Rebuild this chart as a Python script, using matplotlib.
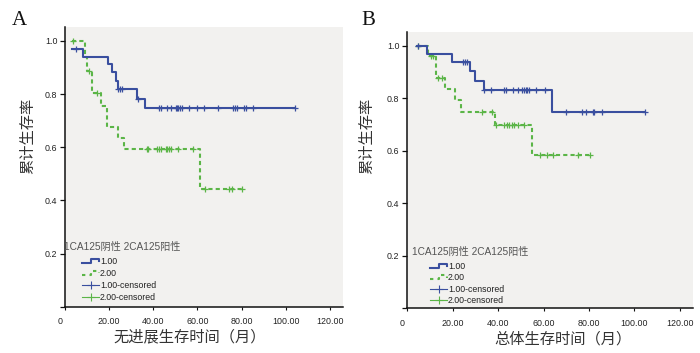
import numpy as np
import matplotlib
matplotlib.use("Agg")
import matplotlib.pyplot as plt
from matplotlib.lines import Line2D
from matplotlib.legend_handler import HandlerBase, HandlerLine2D
from matplotlib.transforms import ScaledTranslation

# ---------------- data ----------------
# Panel A (progression-free survival)
A_blue_t0, A_blue_s0 = 3.0, 0.969
A_blue_event_t = [8.3, 19.3, 21.1, 22.9, 23.8, 32.8, 36.2]
A_blue_event_s = [0.940, 0.911, 0.881, 0.850, 0.818, 0.783, 0.746]
A_blue_cens = [5.0, 24.1, 24.9, 25.7, 33.2, 42.4, 43.3, 46.0, 47.8, 50.1, 50.7, 51.4,
               52.2, 52.9, 56.1, 60.0, 63.0, 69.1, 75.9, 76.9, 78.1, 81.1, 81.9, 85.2, 104.1]

A_green_t0, A_green_s0 = 3.2, 1.0
A_green_event_t = [9.0, 10.0, 12.1, 16.1, 19.1, 24.1, 26.7, 61.1]
A_green_event_s = [0.941, 0.886, 0.802, 0.754, 0.677, 0.635, 0.592, 0.442]
A_green_cens = [3.8, 11.0, 14.3, 37.0, 37.7, 41.8, 42.7, 43.4, 45.7, 46.4, 47.1, 48.0,
                51.0, 58.1, 63.5, 74.5, 75.6, 80.2]

# Panel B (overall survival)
B_blue_t0, B_blue_s0 = 4.3, 1.0
B_blue_event_t = [8.8, 19.8, 27.6, 29.6, 33.7, 63.6]
B_blue_event_s = [0.971, 0.940, 0.905, 0.868, 0.831, 0.749]
B_blue_cens = [4.8, 24.6, 25.4, 26.4, 33.9, 36.7, 42.7, 43.4, 46.7, 48.6, 50.7, 51.4, 52.2,
               52.9, 53.6, 56.6, 60.6, 69.7, 77.0, 78.5, 81.6, 82.4, 85.6, 104.7]

B_green_t0, B_green_s0 = 4.3, 1.0
B_green_event_t = [9.2, 12.6, 16.7, 21.0, 23.6, 38.4, 54.7]
B_green_event_s = [0.962, 0.878, 0.835, 0.793, 0.747, 0.698, 0.583]
B_green_cens = [4.8, 10.4, 11.4, 13.6, 15.4, 32.7, 37.4, 39.1, 42.7, 43.7, 44.6, 45.9,
                47.1, 48.6, 51.5, 58.4, 61.3, 64.2, 75.2, 80.4]

x_ticks = [0, 20, 40, 60, 80, 100, 120]
x_ticklabels = ['0', '20.00', '40.00', '60.00', '80.00', '100.00', '120.00']
y_ticks = [0.0, 0.2, 0.4, 0.6, 0.8, 1.0]
y_ticklabels = ['', '0.2', '0.4', '0.6', '0.8', '1.0']

legend_title = '1CA125阴性 2CA125阳性'
legend_labels = ['1.00', '2.00', '1.00-censored', '2.00-censored']
xlabel_A = '无进展生存时间（月）'
xlabel_B = '总体生存时间（月）'
ylabel = '累计生存率'

# ---------------- style ----------------
BLUE = '#3a4f9f'
GREEN = '#5bb547'
BG = '#f2f1ef'
DASH = (0, (2.0, 1.5))
LAT = ['Liberation Sans', 'DejaVu Sans']
CJK = ['Noto Sans CJK SC', 'DejaVu Sans']
MIX = ['Liberation Sans', 'Noto Sans CJK SC', 'DejaVu Sans']

plt.rcParams['font.family'] = MIX

fig = plt.figure(figsize=(7.0, 3.53), dpi=100)
axA = fig.add_axes([0.093, 0.131, 0.397, 0.7925])
axB = fig.add_axes([0.582, 0.1266, 0.4086, 0.782])


def s_at(c, t0, s0, ev_t, ev_s):
    idx = np.searchsorted(ev_t, c, side='right')
    return s0 if idx == 0 else ev_s[idx - 1]


def km(ax, t0, s0, ev_t, ev_s, cens, color, dashed, z):
    t_end = max(cens + ev_t)
    xs = [t0] + ev_t + [t_end]
    ys = [s0] + ev_s + [ev_s[-1]]
    ls = DASH if dashed else '-'
    ax.step(xs, ys, where='post', color=color, lw=1.5, linestyle=ls, zorder=z)
    cy = [s_at(c, t0, s0, ev_t, ev_s) for c in cens]
    ax.plot(cens, cy, ls='none', marker='+', ms=5, mew=0.9, color=color, zorder=z + 0.5)


class HandlerStep(HandlerBase):
    def create_artists(self, legend, orig_handle, xdescent, ydescent, width, height,
                       fontsize, trans):
        xs = np.array([0.0, 0.5, 0.5, 1.0, 1.0]) * width - xdescent
        ys = np.array([0.15, 0.15, 0.85, 0.85, 0.45]) * height - ydescent
        l = Line2D(xs, ys, color=orig_handle.get_color(), lw=1.5,
                   linestyle=orig_handle.get_linestyle())
        if orig_handle.get_linestyle() != '-':
            l.set_linestyle((0, (1.6, 2.0)))
        l.set_transform(trans)
        return [l]


def style(ax, xlabel, xl_pos, yl_pos, title_pos, leg_anchor, letter_pos, letter, spacing):
    ax.set_facecolor(BG)
    ax.set_xlim(0, 126)
    ax.set_ylim(0, 1.052)
    for sp in ['top', 'right']:
        ax.spines[sp].set_visible(False)
    for sp in ['left', 'bottom']:
        ax.spines[sp].set_color('#111111')
        ax.spines[sp].set_linewidth(1.1)
    ax.set_xticks(x_ticks)
    ax.set_xticklabels(x_ticklabels, fontsize=6.4, family=LAT, color='#222222')
    ax.set_yticks(y_ticks)
    ax.set_yticklabels(y_ticklabels, fontsize=6.4, family=LAT, color='#222222')
    ax.tick_params(axis='y', length=3.6, width=0.9, pad=2, color='#111111')
    ax.tick_params(axis='x', length=2.5, width=0.8, pad=5, color='#111111')
    lab0 = ax.get_xticklabels()[0]
    lab0.set_transform(lab0.get_transform() + ScaledTranslation(-5 / 100, 0, fig.dpi_scale_trans))
    ax.set_xlabel(xlabel, fontsize=11, family=CJK, color='#333333')
    ax.xaxis.set_label_coords(*xl_pos)
    ax.set_ylabel(ylabel, fontsize=11, family=CJK, color='#333333')
    ax.yaxis.set_label_coords(*yl_pos)
    ax.text(title_pos[0], title_pos[1], legend_title, transform=ax.transAxes,
            fontsize=7.3, family=MIX, color='#555555', ha='left', va='center')
    handles = [Line2D([], [], color=BLUE, lw=1.5, linestyle='-'),
               Line2D([], [], color=GREEN, lw=1.5, linestyle='--'),
               Line2D([], [], color=BLUE, lw=0.8, marker='+', ms=6, mew=0.8),
               Line2D([], [], color=GREEN, lw=0.8, marker='+', ms=6, mew=0.8)]
    hs = HandlerStep()
    leg = ax.legend(handles, legend_labels, loc='upper left', bbox_to_anchor=leg_anchor,
                    frameon=False, fontsize=6.3, handlelength=1.9, handletextpad=0.1,
                    labelspacing=spacing, borderaxespad=0, borderpad=0, numpoints=1,
                    handler_map={handles[0]: hs, handles[1]: hs,
                                 handles[2]: HandlerLine2D(numpoints=1),
                                 handles[3]: HandlerLine2D(numpoints=1)})
    for t in leg.get_texts():
        t.set_family(LAT)
        t.set_color('#222222')
    fig.text(letter_pos[0], letter_pos[1], letter, fontsize=15, family=['Liberation Serif'],
             ha='center', va='baseline', color='#111111')


km(axA, A_green_t0, A_green_s0, A_green_event_t, A_green_event_s, A_green_cens, GREEN, True, 3)
km(axA, A_blue_t0, A_blue_s0, A_blue_event_t, A_blue_event_s, A_blue_cens, BLUE, False, 4)
km(axB, B_green_t0, B_green_s0, B_green_event_t, B_green_event_s, B_green_cens, GREEN, True, 3)
km(axB, B_blue_t0, B_blue_s0, B_blue_event_t, B_blue_event_s, B_blue_cens, BLUE, False, 4)

style(axA, xlabel_A, (0.45, -0.078), (-0.1025, 0.61), (-0.004, 0.2145), (0.062, 0.178),
      (19 / 700, 1 - 25 / 353), 'A', 0.36)
style(axB, xlabel_B, (0.543, -0.08), (-0.113, 0.624), (0.015, 0.203), (0.08, 0.168),
      (368 / 700, 1 - 25 / 353), 'B', 0.28)

fig.savefig('out.png', dpi=100)
